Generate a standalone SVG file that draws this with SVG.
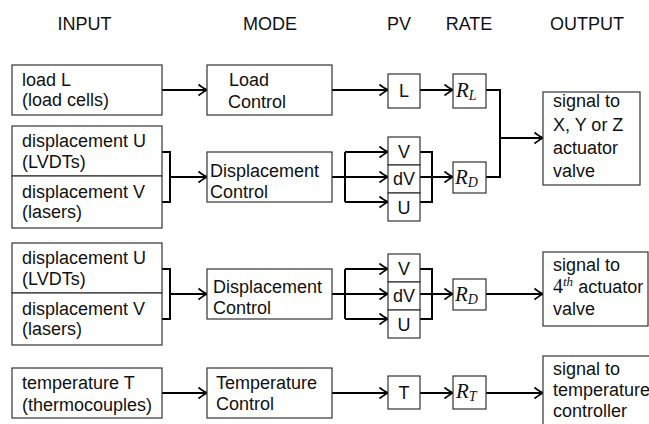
<svg xmlns="http://www.w3.org/2000/svg" width="649" height="424" viewBox="0 0 649 424">
<style>
  .box { fill: #fff; stroke: #333; stroke-width: 1.2; }
  .t { font-family: "Liberation Sans", Arial, sans-serif; font-size: 18px; fill: #111; }
  .title { font-family: "Liberation Sans", Arial, sans-serif; font-size: 18px; fill: #111; text-anchor: middle; }
  .c { text-anchor: middle; }
  .m { font-family: "Liberation Serif", "Times New Roman", serif; font-style: italic; fill: #111; }
  .r { font-family: "Liberation Serif", "Times New Roman", serif; fill: #111; }
  .ln { fill: none; stroke: #000; stroke-width: 2; }
  .ar { fill: none; stroke: #000; stroke-width: 2; marker-end: url(#arr); }
</style>
<defs>
  <marker id="arr" viewBox="-10 -7 12 14" refX="0" refY="0" markerWidth="12" markerHeight="14" markerUnits="userSpaceOnUse" orient="auto">
    <path d="M-8.5,-5.5 Q-3,-1.2 0,0 Q-3,1.2 -8.5,5.5" fill="none" stroke="#000" stroke-width="1.7"/>
  </marker>
</defs>
<rect width="649" height="424" fill="#fff"/>

<g id="titles">
  <text class="title" x="84.5" y="30">INPUT</text>
  <text class="title" x="270" y="30">MODE</text>
  <text class="title" x="399" y="30">PV</text>
  <text class="title" x="469" y="30">RATE</text>
  <text class="title" x="587" y="30">OUTPUT</text>
</g>

<g id="connectors">
  <!-- row 1 -->
  <line class="ar" x1="162" y1="90" x2="207" y2="90"/>
  <line class="ar" x1="332" y1="90" x2="388" y2="90"/>
  <line class="ar" x1="420" y1="90" x2="453" y2="90"/>
  <polyline class="ln" points="486,90 500,90 500,177 486,177"/>
  <line class="ar" x1="500" y1="138" x2="543" y2="138"/>
  <!-- row 2 -->
  <polyline class="ln" points="162,152 170,152 170,202 162,202"/>
  <line class="ar" x1="170" y1="177" x2="207" y2="177"/>
  <line class="ar" x1="332" y1="177" x2="388" y2="177"/>
  <line class="ln" x1="345" y1="152" x2="345" y2="202"/>
  <line class="ar" x1="345" y1="152" x2="388" y2="152"/>
  <line class="ar" x1="345" y1="202" x2="388" y2="202"/>
  <polyline class="ln" points="420,152 432,152 432,202 420,202"/>
  <line class="ar" x1="420" y1="177" x2="453" y2="177"/>
  <!-- row 3 -->
  <polyline class="ln" points="162,269 170,269 170,319 162,319"/>
  <line class="ar" x1="170" y1="294" x2="207" y2="294"/>
  <line class="ar" x1="332" y1="294" x2="388" y2="294"/>
  <line class="ln" x1="345" y1="269" x2="345" y2="319"/>
  <line class="ar" x1="345" y1="269" x2="388" y2="269"/>
  <line class="ar" x1="345" y1="319" x2="388" y2="319"/>
  <polyline class="ln" points="420,269 432,269 432,319 420,319"/>
  <line class="ar" x1="420" y1="294" x2="453" y2="294"/>
  <line class="ar" x1="486" y1="294" x2="543" y2="294"/>
  <!-- row 4 -->
  <line class="ar" x1="162" y1="393" x2="207" y2="393"/>
  <line class="ar" x1="332" y1="393" x2="388" y2="393"/>
  <line class="ar" x1="420" y1="393" x2="453" y2="393"/>
  <line class="ar" x1="486" y1="393" x2="543" y2="393"/>
</g>

<!-- INPUT nodes -->
<g id="in_load">
  <rect class="box" x="12" y="65" width="150" height="50"/>
  <text class="t" x="22" y="86">load L</text>
  <text class="t" x="22" y="106">(load cells)</text>
</g>
<g id="in_dispU1">
  <rect class="box" x="12" y="126" width="150" height="50"/>
  <text class="t" x="22" y="147">displacement U</text>
  <text class="t" x="22" y="168">(LVDTs)</text>
</g>
<g id="in_dispV1">
  <rect class="box" x="12" y="176" width="150" height="52"/>
  <text class="t" x="22" y="198">displacement V</text>
  <text class="t" x="22" y="218">(lasers)</text>
</g>
<g id="in_dispU2">
  <rect class="box" x="12" y="243" width="150" height="50"/>
  <text class="t" x="22" y="264">displacement U</text>
  <text class="t" x="22" y="285">(LVDTs)</text>
</g>
<g id="in_dispV2">
  <rect class="box" x="12" y="293" width="150" height="52"/>
  <text class="t" x="22" y="315">displacement V</text>
  <text class="t" x="22" y="335">(lasers)</text>
</g>
<g id="in_temp">
  <rect class="box" x="12" y="368" width="150" height="50"/>
  <text class="t" x="22" y="389">temperature T</text>
  <text class="t" x="22" y="411">(thermocouples)</text>
</g>

<!-- MODE nodes -->
<g id="mode_load">
  <rect class="box" x="207" y="65" width="125" height="50"/>
  <text class="t" x="229" y="86">Load</text>
  <text class="t" x="228" y="108">Control</text>
</g>
<g id="mode_disp1">
  <rect class="box" x="207" y="152" width="125" height="50"/>
  <text class="t" x="210" y="177">Displacement</text>
  <text class="t" x="210" y="198">Control</text>
</g>
<g id="mode_disp2">
  <rect class="box" x="207" y="269" width="125" height="50"/>
  <text class="t" x="213" y="293">Displacement</text>
  <text class="t" x="213" y="314">Control</text>
</g>
<g id="mode_temp">
  <rect class="box" x="207" y="368" width="125" height="50"/>
  <text class="t" x="216" y="389">Temperature</text>
  <text class="t" x="216" y="410">Control</text>
</g>

<!-- PV nodes -->
<g id="pv_L">
  <rect class="box" x="388" y="74" width="32" height="34"/>
  <text class="t c" x="404" y="97">L</text>
</g>
<g id="pv_V1">
  <rect class="box" x="388" y="137" width="32" height="28"/>
  <text class="t c" x="404" y="158">V</text>
</g>
<g id="pv_dV1">
  <rect class="box" x="388" y="165" width="32" height="28"/>
  <text class="t c" x="404" y="185">dV</text>
</g>
<g id="pv_U1">
  <rect class="box" x="388" y="193" width="32" height="28"/>
  <text class="t c" x="404" y="214">U</text>
</g>
<g id="pv_V2">
  <rect class="box" x="388" y="254" width="32" height="28"/>
  <text class="t c" x="404" y="275">V</text>
</g>
<g id="pv_dV2">
  <rect class="box" x="388" y="282" width="32" height="28"/>
  <text class="t c" x="404" y="302">dV</text>
</g>
<g id="pv_U2">
  <rect class="box" x="388" y="310" width="32" height="28"/>
  <text class="t c" x="404" y="331">U</text>
</g>
<g id="pv_T">
  <rect class="box" x="388" y="376" width="32" height="33"/>
  <text class="t c" x="404" y="399">T</text>
</g>

<!-- RATE nodes -->
<g id="rate_L">
  <rect class="box" x="453" y="74" width="33" height="34"/>
  <text class="m" x="456" y="97" font-size="21">R<tspan font-size="14" dy="3">L</tspan></text>
</g>
<g id="rate_D1">
  <rect class="box" x="453" y="162" width="33" height="31"/>
  <text class="m" x="455" y="184" font-size="21">R<tspan font-size="14" dy="3">D</tspan></text>
</g>
<g id="rate_D2">
  <rect class="box" x="453" y="279" width="33" height="31"/>
  <text class="m" x="455" y="301" font-size="21">R<tspan font-size="14" dy="3">D</tspan></text>
</g>
<g id="rate_T">
  <rect class="box" x="453" y="376" width="33" height="33"/>
  <text class="m" x="456" y="398" font-size="21">R<tspan font-size="14" dy="3">T</tspan></text>
</g>

<!-- OUTPUT nodes -->
<g id="out_xyz">
  <rect class="box" x="543" y="92" width="97" height="93"/>
  <text class="t" x="553" y="107">signal to</text>
  <text class="t" x="553" y="131">X, Y or Z</text>
  <text class="t" x="553" y="154">actuator</text>
  <text class="t" x="553" y="177">valve</text>
</g>
<g id="out_4th">
  <rect class="box" x="543" y="252" width="105" height="74"/>
  <text class="t" x="553" y="271">signal to</text>
  <text x="553" y="293"><tspan class="r" font-size="20">4</tspan><tspan class="m" font-size="13" dy="-7">th</tspan><tspan class="t" dy="7"> actuator</tspan></text>
  <text class="t" x="553" y="315">valve</text>
</g>
<g id="out_temp">
  <rect class="box" x="543" y="356" width="120" height="80"/>
  <text class="t" x="553" y="375">signal to</text>
  <text class="t" x="553" y="396">temperature</text>
  <text class="t" x="553" y="417">controller</text>
</g>
</svg>
